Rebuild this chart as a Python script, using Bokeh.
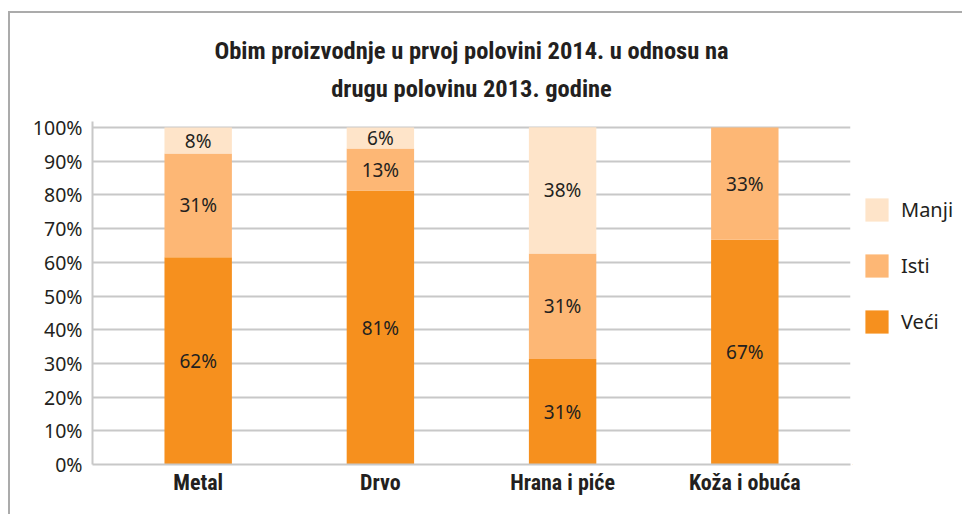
from bokeh.plotting import figure
from bokeh.layouts import row
from bokeh.models import (ColumnDataSource, FactorRange, Range1d, Legend, LegendItem,
                          Title, FixedTicker, PrintfTickFormatter)
from bokeh.core.properties import value
from bokeh.embed import file_html
from bokeh.resources import INLINE

# ---- data ----
categories = ["Metal", "Drvo", "Hrana i piće", "Koža i obuća"]
series = ["Veći", "Isti", "Manji"]
veci = [61.5, 81.3, 31.3, 66.7]
isti = [30.8, 12.5, 31.3, 33.3]
manji = [7.7, 6.2, 37.5, 0.0]
y_ticks = [0, 10, 20, 30, 40, 50, 60, 70, 80, 90, 100]
title_line1 = "Obim proizvodnje u prvoj polovini 2014. u odnosu na"
title_line2 = "drugu polovinu 2013. godine"

colors = ["#f6901e", "#fdb775", "#fee4c9"]
text_color = "#231f20"
grid_color = "#c8c8c8"
frame_color = "#ababab"
cond_font = "Roboto Condensed, DejaVu Sans Condensed, Liberation Sans Narrow, Roboto"
line_img = f"linear-gradient({frame_color}, {frame_color})"

source = ColumnDataSource(data={"cat": categories, "Veći": veci, "Isti": isti, "Manji": manji})

p = figure(x_range=FactorRange(*categories, range_padding=0.08, range_padding_units="absolute"),
           y_range=Range1d(0, 101.8),
           width=852, height=514, title=None,
           output_backend="svg", toolbar_location=None,
           min_border_left=92, min_border_right=2, min_border_top=121, min_border_bottom=50)
p.border_fill_alpha = 0
p.background_fill_color = "white"
p.styles = {
    "background-color": "white",
    "background-image": f"{line_img}, {line_img}",
    "background-size": "2px 100%, 100% 2px",
    "background-position": "8px 11px, 8px 11px",
    "background-repeat": "no-repeat",
}

renderers = p.vbar_stack(series, x="cat", width=0.37, color=colors, line_color=None, source=source)

# segment labels
lx, ly, lt = [], [], []
for i, c in enumerate(categories):
    base = 0.0
    for vals in (veci, isti, manji):
        v = vals[i]
        if v > 0:
            lx.append(c)
            ly.append(base + v / 2)
            lt.append(f"{int(v + 0.5)}%")
        base += v
p.text(x=lx, y=ly, text=lt, text_align="center", text_baseline="middle",
       text_font=value("Noto Sans"), text_font_size="19px", text_color=text_color)

# axes
p.xaxis.axis_line_color = grid_color
p.xaxis.axis_line_width = 2
p.xaxis.major_tick_line_color = None
p.xaxis.major_tick_out = 0
p.xaxis.minor_tick_line_color = None
p.xaxis.major_label_text_font = cond_font
p.xaxis.major_label_text_font_style = "bold"
p.xaxis.major_label_text_font_size = "22px"
p.xaxis.major_label_text_color = text_color
p.xaxis.major_label_standoff = 5

p.yaxis.ticker = FixedTicker(ticks=y_ticks)
p.yaxis.formatter = PrintfTickFormatter(format="%d%%")
p.yaxis.axis_line_color = grid_color
p.yaxis.axis_line_width = 2
p.yaxis.major_tick_line_color = None
p.yaxis.major_tick_out = 0
p.yaxis.minor_tick_line_color = None
p.yaxis.major_label_text_font = "Noto Sans"
p.yaxis.major_label_text_font_size = "19.5px"
p.yaxis.major_label_text_color = text_color
p.yaxis.major_label_standoff = 10

p.xgrid.grid_line_color = None
p.ygrid.ticker = FixedTicker(ticks=y_ticks)
p.ygrid.grid_line_color = grid_color
p.ygrid.grid_line_width = 2
p.outline_line_color = None

# titles (spacer first, closest to the plot)
p.add_layout(Title(text=" ", text_font_size="10px", standoff=1), "above")
p.add_layout(Title(text=title_line2, align="center", text_font=cond_font,
                   text_font_style="bold", text_font_size="24.5px", text_color=text_color,
                   standoff=10), "above")
p.add_layout(Title(text=title_line1, align="center", text_font=cond_font,
                   text_font_style="bold", text_font_size="24.5px", text_color=text_color,
                   standoff=4), "above")

# legend in its own small figure to the right
pl = figure(width=110, height=514, x_range=Range1d(0, 1), y_range=Range1d(0, 1),
            output_backend="svg", toolbar_location=None, min_border=0, title=None)
pl.axis.visible = False
pl.grid.grid_line_color = None
pl.outline_line_color = None
pl.background_fill_alpha = 0
pl.border_fill_alpha = 0
pl.styles = {
    "background-color": "white",
    "background-image": line_img,
    "background-size": "100% 2px",
    "background-position": "0px 11px",
    "background-repeat": "no-repeat",
}
# legend swatches: one bar per series placed outside the visible range
leg_renderers = [pl.vbar(x=[-10], top=[-5], bottom=[-6], width=0.1, color=c, line_color=None)
                 for c in colors]
items = [LegendItem(label=s, renderers=[r]) for s, r in zip(series, leg_renderers)][::-1]
legend = Legend(items=items, location=(10, 128), glyph_width=29, glyph_height=29,
                spacing=27, padding=0, margin=0, border_line_color=None,
                background_fill_alpha=0, label_text_font="Noto Sans",
                label_text_font_size="20px", label_text_color=text_color, label_standoff=10)
pl.add_layout(legend)

layout = row(p, pl)
open("out.html", "w").write(file_html(layout, INLINE))
